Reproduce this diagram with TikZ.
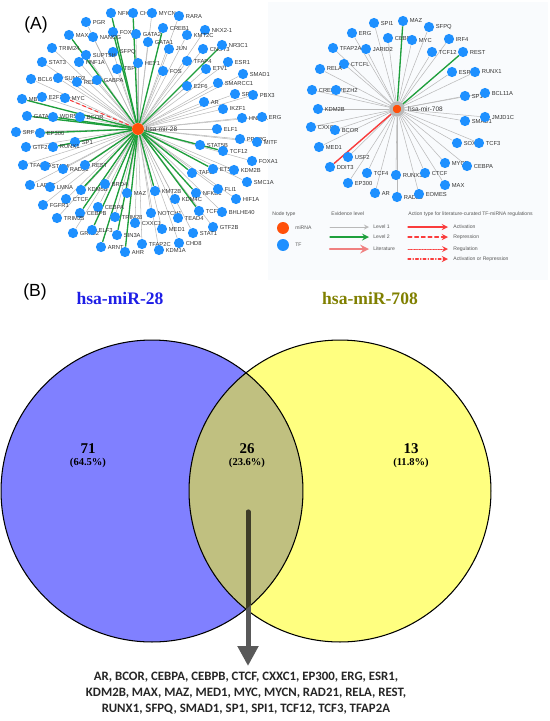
\documentclass[tikz,border=0pt]{standalone}
\usepackage{fontspec}
\setmainfont{Liberation Serif}
\newfontfamily\netfont{Liberation Sans}
\newfontfamily\listfont{Carlito}
\usetikzlibrary{arrows.meta}
\pgfdeclarelayer{bg}
\pgfdeclarelayer{edges}
\pgfsetlayers{bg,edges,main}
\definecolor{tfblue}{RGB}{30,144,255}
\definecolor{mirorange}{RGB}{255,80,10}
\definecolor{edgegray}{RGB}{185,185,185}
\definecolor{lvgreen}{RGB}{30,160,60}
\definecolor{vennblue}{RGB}{128,128,255}
\definecolor{vennyellow}{RGB}{255,255,128}
\definecolor{vennmid}{RGB}{192,192,128}
\definecolor{titleblue}{RGB}{30,30,230}
\definecolor{titleolive}{RGB}{128,128,0}
\definecolor{litred}{RGB}{240,128,128}
\definecolor{actred}{RGB}{250,60,60}
\definecolor{panelbg}{RGB}{249,251,253}
\definecolor{arrgray}{RGB}{89,89,89}
\definecolor{arrdark}{RGB}{62,60,40}
\tikzset{
  tf/.style={circle,fill=tfblue,minimum size=5.8pt,inner sep=0pt},
  mir/.style={circle,fill=mirorange,minimum size=6.8pt,inner sep=0pt},
  tflab/.style={font=\netfont\fontsize{3.3}{4}\selectfont,text=black!80,inner sep=0.6pt},
  mirlab/.style={font=\netfont\fontsize{3.7}{4.4}\selectfont,text=black!80,inner sep=0.8pt},
  leglab/.style={font=\netfont\fontsize{2.9}{3.5}\selectfont,text=black!65,inner sep=0pt},
  tfedge/.style={draw=edgegray,line width=0.3pt},
  lvtwo/.style={draw=lvgreen,line width=0.75pt},
  litedge/.style={draw=litred,line width=1.2pt},
  actsolid/.style={draw=actred,line width=0.6pt},
  actdash/.style={draw=actred,line width=0.6pt,dash pattern=on 2.2pt off 1.6pt},
  actdot/.style={draw=actred,line width=0.5pt,dash pattern=on 0.3pt off 0.6pt},
  actdashdot/.style={draw=actred,line width=0.6pt,dash pattern=on 1.6pt off 1.2pt on 0.3pt off 1.2pt},
  venncount/.style={font=\bfseries\fontsize{8.5}{10}\selectfont},
  vennpct/.style={font=\bfseries\fontsize{6}{7}\selectfont}
}
\begin{document}
\begin{tikzpicture}[x=0.02cm,y=-0.02cm,>=stealth,line join=round,line cap=round]
\useasboundingbox (0,0) rectangle (550,721);
\begin{pgfonlayer}{bg}
\fill[panelbg] (268,2) rectangle (548,280);
\end{pgfonlayer}
\node[font=\netfont\fontsize{10}{12}\selectfont] (labA) at (36,25) {(A)};

\node[mir,label={[mirlab]right:hsa-mir-28}] (m28) at (138,129) {};
\foreach \nm/\x/\y in {NFIC/111/13, CHD2/133/13, MYCN/152/13, RARA/179/16, PGR/86/22,
  FOXO1/113/32, GATA2/136/34, CREB1/163/28, NKX2-1/205/30, KMT2C/187/35, MAX/69/35,
  NANOG/93/37, GATA1/148/42, TRIM24/52/48, SFPQ/113/52, SUPT5H/86/55, JUN/169/49,
  CNOT3/203/49, NR3C1/222/45, STAT3/42/62, HNF1A/79/62, TBP/117/69, HEY1/138/63,
  FOS/163/71, TFAP4/187/61, ETV1/206/69, ESR1/228/62, SMAD1/243/74, BCL6/31/79,
  SUMO2/58/78, RELA/77/82, GABPA/97/80, E2F6/187/86, SMARCC1/218/83, SPI1/235/94,
  PBX3/253/95, MBD2/22/99, E2F1/42/97, MYC/65/98, AR/204/102, IKZF1/223/109,
  GATA3/27/116, WDR5/53/117, BCOR/80/117, HNF4A/242/118, ERG/262/117, ELF1/217/129,
  SRF/16/132, EP300/40/133, SP1/75/142, GTF2I/26/147, RUNX1/53/147, STAT5B/200/145,
  PPARG/240/139, MITF/257/142, TCF12/223/151, FOXA1/252/161, TFAP2A/23/165,
  STAT4/45/166, RAD21/63/169, REST/85/165, TAF1/192/173, ETS1/213/169, KDM2B/234/170,
  LARP7/30/185, LMNA/50/187, KDM5B/81/190, BRD4/105/184, MAZ/127/193, KMT2B/155/191,
  NFKB1/196/193, FLI1/218/189, SMC1A/247/182, CTCF/66/199, KDM4C/175/199,
  HIF1A/236/199, FGFR1/43/205, CEBPA/98/207, CEBPB/80/213, NOTCH1/151/213,
  TCF3/199/211, BHLHE40/222/212, TRIM28/115/217, TRIM25/57/218, TEAD4/178/218,
  CXXC1/135/223, MED1/162/229, GTF2B/213/227, GRHL2/73/233, ELF3/92/230,
  SIN3A/117/235, STAT1/193/233, CHD8/179/243, TFAP2C/142/244, ARNT/101/247,
  AHR/125/252, KDM1A/159/250}{
  \node[tf,label={[tflab]right:\nm}] (a\nm) at (\x,\y) {};
  \begin{pgfonlayer}{edges}\draw[tfedge] (a\nm) -- (m28);\end{pgfonlayer}
}
\begin{pgfonlayer}{edges}
\foreach \nm in {NFIC,FOXO1,MAX,CHD2,CREB1,NR3C1,GATA3,WDR5,MBD2,EP300,RUNX1,KDM5B,
  REST,CEBPB,ELF3,ARNT,AHR,TCF12,TAF1,ETS1,NFKB1,TCF3,KMT2B,SIN3A}
  \draw[lvtwo] (a\nm) -- (m28);
\draw[actdash] (aMYC) -- (m28);
\end{pgfonlayer}

\node[mir,draw=gray!55,line width=1.9pt,label={[mirlab,xshift=1pt]right:hsa-mir-708}] (m708) at (397,109) {};
\foreach \nm/\x/\y in {SPI1/374/23, MAZ/403/21, SFPQ/429/27, ERG/352/33, CEBPB/388/38,
  MYC/412/40, IRF4/449/39, TFAP2A/333/48, JARID2/366/49, TCF12/432/52, REST/463/52,
  CTCFL/344/64, RELA/320/69, ESR1/452/72, RUNX1/475/72, CREBBP/312/90, EZH2/336/90,
  KDM2B/318/109, SP1/465/96, BCL11A/485/93, SMAD1/465/121, JMJD1C/485/117,
  CXXC1/311/127, BCOR/335/130, MED1/319/147, USF2/348/157, DDIT3/330/167,
  TCF4/367/173, RUNX3/396/175, CTCF/425/173, EP300/348/183, AR/375/193,
  RAD21/397/197, EOMES/419/194, MAX/445/185, MYCN/445/163, CEBPA/467/166,
  SOX2/457/143, TCF3/479/143}{
  \node[tf,label={[tflab]right:\nm}] (b\nm) at (\x,\y) {};
  \begin{pgfonlayer}{edges}\draw[tfedge] (b\nm) -- (m708);\end{pgfonlayer}
}
\begin{pgfonlayer}{edges}
\foreach \nm in {MAZ,REST}
  \draw[lvtwo] (b\nm) -- (m708);
\draw[actsolid,line width=0.8pt] (bDDIT3) -- (m708);
\end{pgfonlayer}

\node[leglab,anchor=west] (ntype) at (272,214) {Node type};
\node[mir] (lgmir) at (283,228) {};
\node[leglab,anchor=west] (lgmirt) at (295,228) {miRNA};
\node[tf,minimum size=6.8pt] (lgtf) at (283,245) {};
\node[leglab,anchor=west] (lgtft) at (295,245) {TF};
\node[leglab,anchor=west] (evid) at (331,214) {Evidence level};
\foreach \i/\y/\sty/\txt in {1/227/tfedge/Level 1, 2/237/lvtwo/Level 2, 3/249/litedge/Literature}{
  \coordinate (eva\i) at (330,\y);
  \coordinate (evb\i) at (369,\y);
  \draw[\sty,->] (eva\i) -- (evb\i);
  \node[leglab,anchor=west] (evt\i) at (373,\y) {\txt};
}
\node[leglab,anchor=west] (acttype) at (408,214) {Action type for literature-curated TF-miRNA regulations};
\foreach \i/\y/\sty/\txt in {1/227/actsolid/Activation, 2/237/actdash/Repression,
  3/249/actdot/Regulation, 4/259/actdashdot/Activation or Repression}{
  \coordinate (aca\i) at (408,\y);
  \coordinate (acb\i) at (448,\y);
  \draw[\sty,->] (aca\i) -- (acb\i);
  \node[leglab,anchor=west] (act\i) at (453,\y) {\txt};
}

\node[font=\netfont\fontsize{10}{12}\selectfont] (labB) at (35,292) {(B)};
\node[font=\bfseries\fontsize{10}{12}\selectfont,text=titleblue] (t28) at (120,298) {hsa-miR-28};
\node[font=\bfseries\fontsize{10}{12}\selectfont,text=titleolive] (t708) at (370,298) {hsa-miR-708};
\fill[vennblue] (152,491) circle (3.02cm);
\fill[vennyellow] (340,491) circle (3.02cm);
\begin{scope}
\clip (152,491) circle (3.02cm);
\fill[vennmid] (340,491) circle (3.02cm);
\end{scope}
\draw[line width=0.6pt] (152,491) circle (3.02cm);
\draw[line width=0.6pt] (340,491) circle (3.02cm);
\node[venncount] (n71) at (88,449) {71};
\node[vennpct] (p71) at (88,463) {(64.5\%)};
\node[venncount] (n26) at (247,449) {26};
\node[vennpct] (p26) at (247,463) {(23.6\%)};
\node[venncount] (n13) at (411,449) {13};
\node[vennpct] (p13) at (411,463) {(11.8\%)};

\node[font=\listfont\bfseries\fontsize{7.3}{9}\selectfont,text=black!85,align=center] (genes) at (246,693)
  {AR, BCOR, CEBPA, CEBPB, CTCF, CXXC1, EP300, ERG, ESR1,\\
   KDM2B, MAX, MAZ, MED1, MYC, MYCN, RAD21, RELA, REST,\\
   RUNX1, SFPQ, SMAD1, SP1, SPI1, TCF12, TCF3, TFAP2A};
\coordinate (arrtop) at (248,512);
\coordinate (arrtip) at (248,666);
\draw[arrgray,line width=0.1cm,-{Triangle[width=0.4cm,length=0.4cm]}] (arrtop) -- (arrtip);
\begin{scope}
\clip (152,491) circle (3.02cm);
\draw[arrdark,line width=0.1cm] (arrtop) -- (arrtip);
\end{scope}
\end{tikzpicture}
\end{document}
